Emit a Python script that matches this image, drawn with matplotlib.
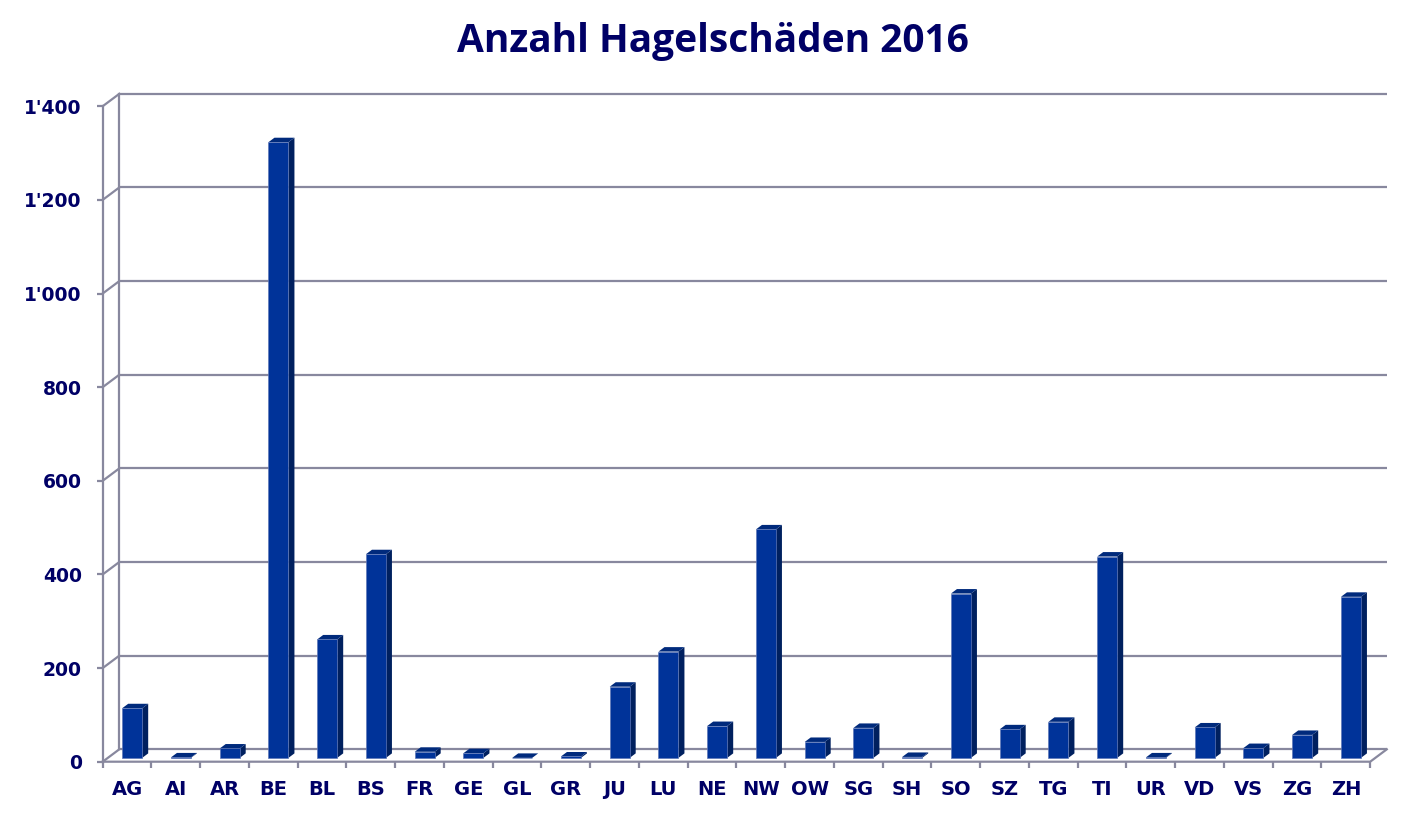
import numpy as np
import matplotlib
matplotlib.use("Agg")
import matplotlib.pyplot as plt
from matplotlib.patches import Polygon

cantons = ["AG", "AI", "AR", "BE", "BL", "BS", "FR", "GE", "GL", "GR", "JU", "LU", "NE",
           "NW", "OW", "SG", "SH", "SO", "SZ", "TG", "TI", "UR", "VD", "VS", "ZG", "ZH"]
schaeden = [106, 1, 20, 1315, 253, 435, 13, 10, 0, 3, 152, 227, 68,
            488, 34, 64, 2, 351, 61, 77, 430, 1, 65, 21, 49, 344]
y_ticks = [0, 200, 400, 600, 800, 1000, 1200, 1400]

navy = "#000066"
grid_col = "#88889e"
front_col = "#003399"
side_col = "#00205f"
top_col = "#002a7c"

W, H = 1426, 817
fig = plt.figure(figsize=(W / 100, H / 100), dpi=100)

# axes box in pixels: front-left axis to back-right wall
left_px, right_px = 102.7, 1387.0
bottom_px, top_px = 761.7, 93.3
ax = fig.add_axes([left_px / W, (H - bottom_px) / H,
                   (right_px - left_px) / W, (bottom_px - top_px) / H])

n = len(cantons)
px_per_cat = 48.75
px_per_val = 0.4682
xmax = -0.5 + (right_px - left_px) / px_per_cat
ymax = (bottom_px - top_px) / px_per_val
ax.set_xlim(-0.5, xmax)
ax.set_ylim(0, ymax)

# depth of the floor (px -> data)
DX = 16.6 / px_per_cat
DY = 12.4 / px_per_val

lw = 1.6
# back wall gridlines + diagonals from front axis
for v in y_ticks:
    ax.plot([-0.5 + DX, n - 0.5 + DX], [v + DY, v + DY], color=grid_col, lw=lw,
            solid_capstyle="butt", clip_on=False, zorder=1)
    ax.plot([-0.5, -0.5 + DX], [v, v + DY], color=grid_col, lw=lw, clip_on=False, zorder=1)
# back wall left edge
ax.plot([-0.5 + DX, -0.5 + DX], [DY, y_ticks[-1] + DY], color=grid_col, lw=lw,
        clip_on=False, zorder=1)
# front axis
ax.plot([-0.5, -0.5], [0, y_ticks[-1]], color=grid_col, lw=lw, clip_on=False, zorder=3)
# floor
ax.plot([-0.5, n - 0.5, n - 0.5 + DX], [0, 0, DY], color=grid_col, lw=lw,
        clip_on=False, zorder=3)

# 3d-looking bars
f0, f1 = 0.31, 0.67
half_w = 0.205
ddx = (f1 - f0) * DX
ddy = (f1 - f0) * DY
for i, v in enumerate(schaeden):
    xc = i + f0 * DX
    xl, xr = xc - half_w, xc + half_w
    y0 = f0 * DY
    y1 = y0 + v
    ax.add_patch(Polygon([(xr, y0), (xr + ddx, y0 + ddy), (xr + ddx, y1 + ddy), (xr, y1)],
                         closed=True, facecolor=side_col, edgecolor="none", zorder=4))
    ax.add_patch(Polygon([(xl, y1), (xr, y1), (xr + ddx, y1 + ddy), (xl + ddx, y1 + ddy)],
                         closed=True, facecolor=top_col, edgecolor="none", zorder=4))
    ax.add_patch(Polygon([(xl, y0), (xr, y0), (xr, y1), (xl, y1)], closed=True,
                         facecolor=front_col, edgecolor="#5f78b8", lw=0.5, zorder=5))

for s in ax.spines.values():
    s.set_visible(False)

ax.set_yticks(y_ticks)
ax.set_yticklabels([f"{v:,}".replace(",", "'") for v in y_ticks])
ax.set_xticks(range(n))
ax.set_xticklabels(cantons)
ax.set_xticks(np.arange(n + 1) - 0.5, minor=True)
ax.tick_params(axis="x", which="major", length=0, pad=13)
ax.tick_params(axis="x", which="minor", length=4, width=lw, color=grid_col, direction="out")
ax.tick_params(axis="y", length=4, width=lw, color=grid_col, direction="out", pad=11)
for lab in ax.get_xticklabels():
    lab.set_fontfamily("DejaVu Sans")
    lab.set_fontweight("bold")
    lab.set_fontsize(14)
    lab.set_color(navy)
for lab in ax.get_yticklabels():
    lab.set_fontfamily("DejaVu Sans")
    lab.set_fontweight("bold")
    lab.set_fontsize(13.5)
    lab.set_color(navy)

fig.text(0.5, (H - 52) / H, "Anzahl Hagelschäden 2016", ha="center", va="baseline",
         fontsize=28, fontweight="bold", color=navy, family="Open Sans")

fig.savefig("out.png", dpi=100)
